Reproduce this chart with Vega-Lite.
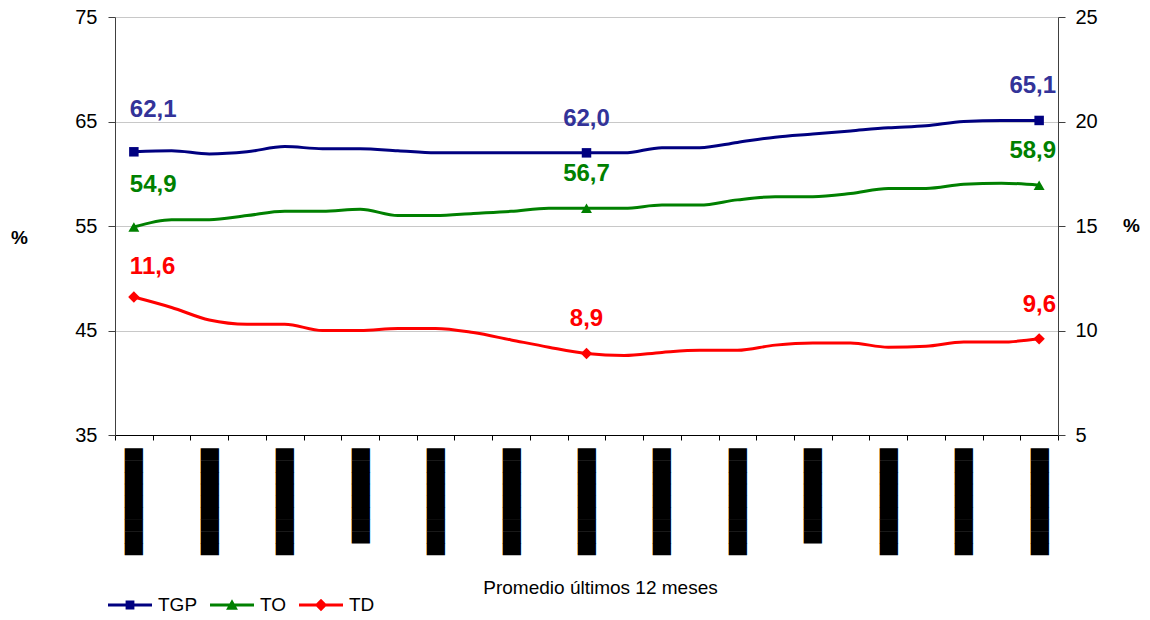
{
  "$schema": "https://vega.github.io/schema/vega-lite/v6.json",
  "autosize": {"type": "none"},
  "padding": {"left": 115, "top": 17, "right": 92, "bottom": 185},
  "width": 943,
  "height": 418,
  "background": "white",
  "config": {
    "font": "Liberation Sans",
    "view": {"stroke": null},
    "locale": {"number": {"decimal": ",", "thousands": ".", "grouping": [3], "currency": ["", " €"]}},
    "axis": {"labelFont": "Liberation Sans", "titleFont": "Liberation Sans", "labelColor": "#000000", "titleColor": "#000000"}
  },
  "data": {
    "values": [
      {"periodo": 1, "serie": "TGP", "valor": 62.1}, {"periodo": 2, "serie": "TGP", "valor": 62.2}, {"periodo": 3, "serie": "TGP", "valor": 61.9}, {"periodo": 4, "serie": "TGP", "valor": 62.1}, {"periodo": 5, "serie": "TGP", "valor": 62.6},
      {"periodo": 6, "serie": "TGP", "valor": 62.4}, {"periodo": 7, "serie": "TGP", "valor": 62.4}, {"periodo": 8, "serie": "TGP", "valor": 62.2}, {"periodo": 9, "serie": "TGP", "valor": 62.0}, {"periodo": 10, "serie": "TGP", "valor": 62.0},
      {"periodo": 11, "serie": "TGP", "valor": 62.0}, {"periodo": 12, "serie": "TGP", "valor": 62.0}, {"periodo": 13, "serie": "TGP", "valor": 62.0}, {"periodo": 14, "serie": "TGP", "valor": 62.0}, {"periodo": 15, "serie": "TGP", "valor": 62.5},
      {"periodo": 16, "serie": "TGP", "valor": 62.5}, {"periodo": 17, "serie": "TGP", "valor": 63.0}, {"periodo": 18, "serie": "TGP", "valor": 63.5}, {"periodo": 19, "serie": "TGP", "valor": 63.8}, {"periodo": 20, "serie": "TGP", "valor": 64.1},
      {"periodo": 21, "serie": "TGP", "valor": 64.4}, {"periodo": 22, "serie": "TGP", "valor": 64.6}, {"periodo": 23, "serie": "TGP", "valor": 65.0}, {"periodo": 24, "serie": "TGP", "valor": 65.1}, {"periodo": 25, "serie": "TGP", "valor": 65.1},
      {"periodo": 1, "serie": "TO", "valor": 54.9}, {"periodo": 2, "serie": "TO", "valor": 55.6}, {"periodo": 3, "serie": "TO", "valor": 55.6}, {"periodo": 4, "serie": "TO", "valor": 56.0}, {"periodo": 5, "serie": "TO", "valor": 56.4},
      {"periodo": 6, "serie": "TO", "valor": 56.4}, {"periodo": 7, "serie": "TO", "valor": 56.6}, {"periodo": 8, "serie": "TO", "valor": 56.0}, {"periodo": 9, "serie": "TO", "valor": 56.0}, {"periodo": 10, "serie": "TO", "valor": 56.2},
      {"periodo": 11, "serie": "TO", "valor": 56.4}, {"periodo": 12, "serie": "TO", "valor": 56.7}, {"periodo": 13, "serie": "TO", "valor": 56.7}, {"periodo": 14, "serie": "TO", "valor": 56.7}, {"periodo": 15, "serie": "TO", "valor": 57.0},
      {"periodo": 16, "serie": "TO", "valor": 57.0}, {"periodo": 17, "serie": "TO", "valor": 57.5}, {"periodo": 18, "serie": "TO", "valor": 57.8}, {"periodo": 19, "serie": "TO", "valor": 57.8}, {"periodo": 20, "serie": "TO", "valor": 58.1},
      {"periodo": 21, "serie": "TO", "valor": 58.6}, {"periodo": 22, "serie": "TO", "valor": 58.6}, {"periodo": 23, "serie": "TO", "valor": 59.0}, {"periodo": 24, "serie": "TO", "valor": 59.1}, {"periodo": 25, "serie": "TO", "valor": 58.9},
      {"periodo": 1, "serie": "TD", "valor": 11.6}, {"periodo": 2, "serie": "TD", "valor": 11.1}, {"periodo": 3, "serie": "TD", "valor": 10.5}, {"periodo": 4, "serie": "TD", "valor": 10.3}, {"periodo": 5, "serie": "TD", "valor": 10.3},
      {"periodo": 6, "serie": "TD", "valor": 10.0}, {"periodo": 7, "serie": "TD", "valor": 10.0}, {"periodo": 8, "serie": "TD", "valor": 10.1}, {"periodo": 9, "serie": "TD", "valor": 10.1}, {"periodo": 10, "serie": "TD", "valor": 9.9},
      {"periodo": 11, "serie": "TD", "valor": 9.55}, {"periodo": 12, "serie": "TD", "valor": 9.2}, {"periodo": 13, "serie": "TD", "valor": 8.9}, {"periodo": 14, "serie": "TD", "valor": 8.8}, {"periodo": 15, "serie": "TD", "valor": 8.95},
      {"periodo": 16, "serie": "TD", "valor": 9.05}, {"periodo": 17, "serie": "TD", "valor": 9.05}, {"periodo": 18, "serie": "TD", "valor": 9.3}, {"periodo": 19, "serie": "TD", "valor": 9.4}, {"periodo": 20, "serie": "TD", "valor": 9.4},
      {"periodo": 21, "serie": "TD", "valor": 9.2}, {"periodo": 22, "serie": "TD", "valor": 9.25}, {"periodo": 23, "serie": "TD", "valor": 9.45}, {"periodo": 24, "serie": "TD", "valor": 9.45}, {"periodo": 25, "serie": "TD", "valor": 9.6}
    ]
  },
  "encoding": {
    "x": {
      "field": "periodo",
      "type": "ordinal",
      "scale": {"type": "band", "paddingInner": 0, "paddingOuter": 0},
      "axis": {
        "title": "Promedio últimos 12 meses",
        "titleFontSize": 19,
        "titleFontWeight": "normal",
        "titleX": 485,
        "titleY": 152,
        "titleAlign": "center",
        "titleBaseline": "middle",
        "labelAngle": -90,
        "labelFont": "DejaVu Sans",
        "labelFontSize": 15.4,
        "labelExpr": "(isNumber(datum.value) && datum.value >= 1 && datum.value % 2 === 1) ? (indexof([7, 19], datum.value) >= 0 ? '████████' : '█████████') : ''",
        "labelOverlap": false,
        "labelFlush": false,
        "labelBound": false,
        "labelLimit": 0,
        "labelPadding": 8,
        "tickBand": "extent",
        "tickSize": 5,
        "tickColor": "#000000",
        "domainColor": "#000000",
        "grid": false
      }
    }
  },
  "layer": [
    {
      "transform": [{"filter": "datum.serie !== 'TD'"}],
      "encoding": {
        "y": {
          "field": "valor",
          "type": "quantitative",
          "scale": {"domain": [35, 75], "nice": false, "zero": false},
          "axis": {
            "title": "%",
            "titleAngle": 0,
            "titleFontSize": 19,
            "titleFontWeight": "bold",
            "titleX": -96,
            "titleY": 220,
            "titleAlign": "center",
            "titleBaseline": "middle",
            "values": [35, 45, 55, 65, 75],
            "labelFontSize": 20,
            "labelPadding": 11,
            "tickSize": 7,
            "tickColor": "#404040",
            "domainColor": "#404040",
            "grid": true,
            "gridColor": "#c8c8c8",
            "gridWidth": 1
          }
        }
      },
      "layer": [
        {
          "mark": {"type": "line", "interpolate": "monotone", "strokeWidth": 3},
          "encoding": {
            "color": {
              "field": "serie",
              "type": "nominal",
              "scale": {"domain": ["TGP", "TO", "TD"], "range": ["#000080", "#008000", "#FF0000"]},
              "legend": {
                "orient": "none",
                "legendX": -7,
                "legendY": 566,
                "direction": "horizontal",
                "title": null,
                "symbolSize": 1936,
                "labelFontSize": 19,
                "labelFont": "Liberation Sans",
                "labelColor": "#000000",
                "labelOffset": 6,
                "columnPadding": 12,
                "encode": {
                  "symbols": {
                    "update": {
                      "shape": {"signal": "datum.value === 'TGP' ? 'M-1,-0.07H1V0.07H-1Z M-0.2,-0.2H0.2V0.2H-0.2Z' : (datum.value === 'TO' ? 'M-1,-0.07H1V0.07H-1Z M-0.27,0.22L0,-0.26L0.27,0.22Z' : 'M-1,-0.07H1V0.07H-1Z M0,-0.28L0.28,0L0,0.28L-0.28,0Z')"},
                      "fill": {"signal": "datum.value === 'TGP' ? '#000080' : (datum.value === 'TO' ? '#008000' : '#FF0000')"},
                      "strokeWidth": {"value": 0},
                      "opacity": {"value": 1},
                      "fillOpacity": {"value": 1}
                    }
                  }
                }
              }
            }
          }
        },
        {
          "transform": [{"filter": "datum.serie === 'TGP' && (datum.periodo === 1 || datum.periodo === 13 || datum.periodo === 25)"}],
          "mark": {"type": "point", "shape": "square", "filled": true, "size": 90, "opacity": 1},
          "encoding": {"color": {"field": "serie", "type": "nominal"}}
        },
        {
          "transform": [{"filter": "datum.serie === 'TO' && (datum.periodo === 1 || datum.periodo === 13 || datum.periodo === 25)"}],
          "mark": {"type": "point", "shape": "triangle-up", "filled": true, "size": 120, "opacity": 1},
          "encoding": {"color": {"field": "serie", "type": "nominal"}}
        },
        {
          "transform": [{"filter": "datum.periodo === 1"}],
          "mark": {"type": "text", "align": "left", "dx": -4, "dy": -42, "fontSize": 24, "fontWeight": "bold"},
          "encoding": {
            "text": {"field": "valor", "type": "quantitative", "format": ".1f"},
            "color": {"condition": {"test": "datum.serie === 'TGP'", "value": "#333399"}, "field": "serie", "type": "nominal"}
          }
        },
        {
          "transform": [{"filter": "datum.periodo === 13"}],
          "mark": {"type": "text", "align": "center", "dy": -34, "fontSize": 24, "fontWeight": "bold"},
          "encoding": {
            "text": {"field": "valor", "type": "quantitative", "format": ".1f"},
            "color": {"condition": {"test": "datum.serie === 'TGP'", "value": "#333399"}, "field": "serie", "type": "nominal"}
          }
        },
        {
          "transform": [{"filter": "datum.periodo === 25"}],
          "mark": {"type": "text", "align": "right", "dx": 17, "dy": -34, "fontSize": 24, "fontWeight": "bold"},
          "encoding": {
            "text": {"field": "valor", "type": "quantitative", "format": ".1f"},
            "color": {"condition": {"test": "datum.serie === 'TGP'", "value": "#333399"}, "field": "serie", "type": "nominal"}
          }
        }
      ]
    },
    {
      "transform": [{"filter": "datum.serie === 'TD'"}],
      "encoding": {
        "y": {
          "field": "valor",
          "type": "quantitative",
          "scale": {"domain": [5, 25], "nice": false, "zero": false},
          "axis": {
            "orient": "right",
            "title": "%",
            "titleAngle": 0,
            "titleFontSize": 19,
            "titleFontWeight": "bold",
            "titleX": 73,
            "titleY": 208,
            "titleAlign": "center",
            "titleBaseline": "middle",
            "values": [5, 10, 15, 20, 25],
            "labelFontSize": 20,
            "labelPadding": 10,
            "tickSize": 7,
            "tickColor": "#404040",
            "domainColor": "#404040",
            "grid": false
          }
        }
      },
      "layer": [
        {
          "mark": {"type": "line", "interpolate": "monotone", "strokeWidth": 3},
          "encoding": {"color": {"field": "serie", "type": "nominal"}}
        },
        {
          "transform": [{"filter": "datum.periodo === 1 || datum.periodo === 13 || datum.periodo === 25"}],
          "mark": {"type": "point", "shape": "diamond", "filled": true, "size": 130, "opacity": 1},
          "encoding": {"color": {"field": "serie", "type": "nominal"}}
        },
        {
          "transform": [{"filter": "datum.periodo === 1"}],
          "mark": {"type": "text", "align": "left", "dx": -4, "dy": -30, "fontSize": 24, "fontWeight": "bold"},
          "encoding": {
            "text": {"field": "valor", "type": "quantitative", "format": ".1f"},
            "color": {"field": "serie", "type": "nominal"}
          }
        },
        {
          "transform": [{"filter": "datum.periodo === 13"}],
          "mark": {"type": "text", "align": "center", "dy": -34, "fontSize": 24, "fontWeight": "bold"},
          "encoding": {
            "text": {"field": "valor", "type": "quantitative", "format": ".1f"},
            "color": {"field": "serie", "type": "nominal"}
          }
        },
        {
          "transform": [{"filter": "datum.periodo === 25"}],
          "mark": {"type": "text", "align": "right", "dx": 17, "dy": -34, "fontSize": 24, "fontWeight": "bold"},
          "encoding": {
            "text": {"field": "valor", "type": "quantitative", "format": ".1f"},
            "color": {"field": "serie", "type": "nominal"}
          }
        }
      ]
    }
  ],
  "resolve": {"scale": {"y": "independent"}}
}
